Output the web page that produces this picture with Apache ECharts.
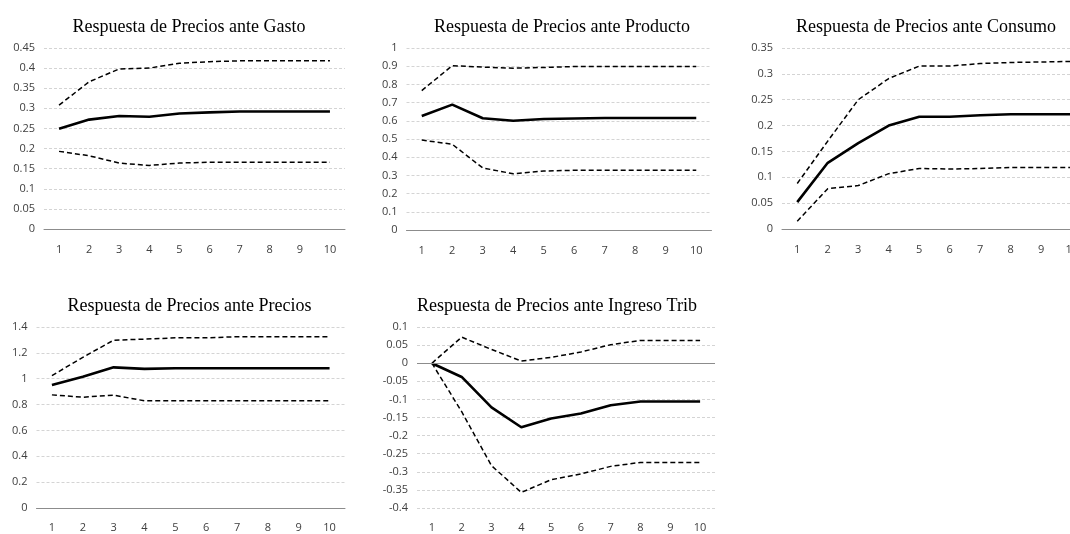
<!DOCTYPE html>
<html>
<head>
<meta charset="utf-8">
<script src="https://cdn.jsdelivr.net/npm/echarts@6/dist/echarts.min.js"></script>
<style>
html,body{margin:0;padding:0;background:#fff;}
#c{width:1070px;height:534px;}
</style>
</head>
<body>
<div id="c"></div>
<script>
var periods = ['1','2','3','4','5','6','7','8','9','10'];
var titles = ['Respuesta de Precios ante Gasto','Respuesta de Precios ante Producto','Respuesta de Precios ante Consumo','Respuesta de Precios ante Precios','Respuesta de Precios ante Ingreso Trib'];

var gastoIRF   = [0.249,0.272,0.281,0.279,0.287,0.290,0.292,0.292,0.292,0.292];
var gastoUpper = [0.308,0.366,0.398,0.400,0.412,0.416,0.418,0.418,0.418,0.418];
var gastoLower = [0.193,0.182,0.164,0.158,0.164,0.166,0.166,0.166,0.166,0.166];

var prodIRF   = [0.626,0.689,0.614,0.600,0.610,0.613,0.615,0.615,0.615,0.615];
var prodUpper = [0.766,0.903,0.895,0.889,0.893,0.898,0.898,0.898,0.898,0.898];
var prodLower = [0.494,0.471,0.341,0.309,0.324,0.328,0.328,0.328,0.328,0.328];

var consIRF   = [0.052,0.128,0.166,0.200,0.217,0.217,0.220,0.222,0.222,0.222];
var consUpper = [0.088,0.170,0.250,0.291,0.315,0.315,0.320,0.322,0.323,0.324];
var consLower = [0.015,0.078,0.084,0.107,0.117,0.116,0.117,0.119,0.119,0.119];

var precIRF   = [0.952,1.016,1.088,1.076,1.081,1.081,1.081,1.081,1.081,1.081];
var precUpper = [1.024,1.165,1.298,1.306,1.316,1.316,1.325,1.325,1.325,1.325];
var precLower = [0.875,0.857,0.873,0.829,0.829,0.829,0.829,0.829,0.829,0.829];

var tribIRF   = [0,-0.038,-0.122,-0.177,-0.153,-0.139,-0.116,-0.106,-0.106,-0.106];
var tribUpper = [0,0.072,0.038,0.006,0.016,0.031,0.051,0.063,0.063,0.063];
var tribLower = [0,-0.134,-0.283,-0.357,-0.322,-0.306,-0.285,-0.274,-0.274,-0.274];

var yMin = [0,0,0,0,-0.4];
var yMax = [0.45,1,0.35,1.4,0.1];
var yStep = [0.05,0.1,0.05,0.2,0.05];

var panels = [
  [gastoIRF,gastoUpper,gastoLower],
  [prodIRF,prodUpper,prodLower],
  [consIRF,consUpper,consLower],
  [precIRF,precUpper,precLower],
  [tribIRF,tribUpper,tribLower]
];

var gridPos = [
  {left:44, top:48, width:301, height:181},
  {left:406.5, top:48, width:305, height:182},
  {left:782, top:48, width:305, height:181},
  {left:36.5, top:327, width:308.5, height:181},
  {left:417, top:327, width:298, height:181}
];
var titlePos = [[184,13],[557,13],[921,13],[184.5,292],[552,292]];
var xLabelMargin = [15,15,15,14,14];

var labelFont = {color:'#404040', fontSize:11, fontFamily:'Open Sans'};

var option = {
  animation:false,
  backgroundColor:'#fff',
  title: titles.map(function(t,i){
    return {text:t, left:titlePos[i][0], top:titlePos[i][1], textAlign:'center',
      textStyle:{fontFamily:'Liberation Serif', fontSize:18, fontWeight:'normal', color:'#000'}};
  }),
  grid: gridPos.map(function(g){ return Object.assign({containLabel:false, outerBoundsMode:'none'}, g); }),
  xAxis: gridPos.map(function(g,i){
    return {type:'category', gridIndex:i, data:periods, boundaryGap:true,
      axisTick:{show:false},
      axisLine:{show:i!==4, onZero:false, lineStyle:{color:'#8c8c8c', width:1}},
      axisLabel:Object.assign({margin:xLabelMargin[i], interval:0}, labelFont),
      splitLine:{show:false}};
  }),
  yAxis: gridPos.map(function(g,i){
    return {type:'value', gridIndex:i, min:yMin[i], max:yMax[i], interval:yStep[i],
      axisLine:{show:false}, axisTick:{show:false},
      axisLabel:Object.assign({margin:9}, labelFont),
      splitLine:{show:true, lineStyle:{color:'#d4d4d4', width:1, type:[3,2]}}};
  }),
  series: []
};

panels.forEach(function(p,i){
  var solid = {type:'line', xAxisIndex:i, yAxisIndex:i, data:p[0], symbol:'none', z:4,
    lineStyle:{color:'#000', width:2.6, type:'solid'}};
  if (i === 4) {
    solid.markLine = {silent:true, symbol:['none','none'], label:{show:false},
      lineStyle:{color:'#8c8c8c', width:1, type:'solid'}, data:[{yAxis:0}]};
  }
  option.series.push(solid);
  [p[1],p[2]].forEach(function(d){
    option.series.push({type:'line', xAxisIndex:i, yAxisIndex:i, data:d, symbol:'none', z:3,
      lineStyle:{color:'#000', width:1.5, type:[5,3]}});
  });
});

var chart = echarts.init(document.getElementById('c'), null, {renderer:'canvas'});
chart.setOption(option);
</script>
</body>
</html>
